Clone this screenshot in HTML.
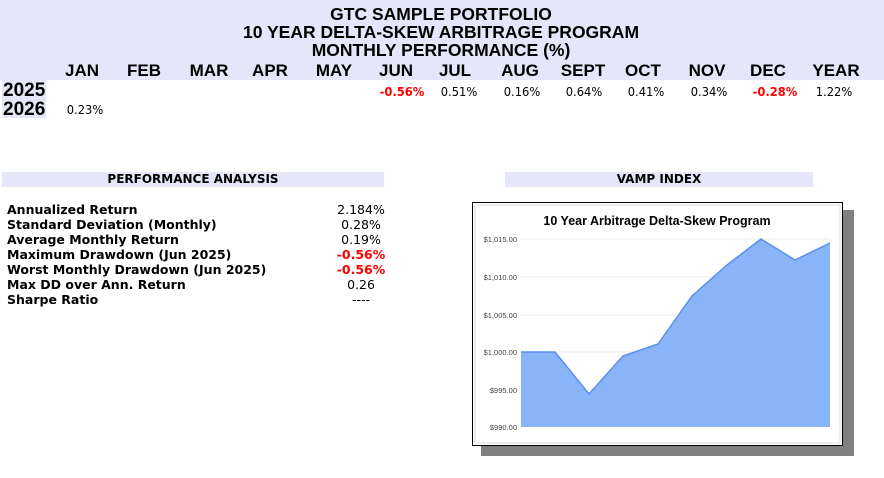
<!DOCTYPE html>
<html><head><style>
body{margin:0;width:884px;height:478px;background:#fff;position:relative;overflow:hidden;font-family:"DejaVu Sans","Liberation Sans",sans-serif;color:#000}
.a{position:absolute;white-space:nowrap}
.t{font-family:"Liberation Sans",sans-serif;font-weight:bold;font-size:17.5px;transform:translateX(-50%);}
.m{font-family:"Liberation Sans",sans-serif;font-weight:bold;font-size:17px;transform:translateX(-50%);top:61px}
.v{font-size:12.5px;transform:translateX(-50%) scaleX(0.92);top:84px}
.r{color:#f00;font-weight:bold;font-size:12.5px}
.l{left:7px;font-size:12.5px;font-weight:bold;}
.n{left:361px;transform:translateX(-50%);font-size:12.5px}
</style></head><body>
<div class="a" style="left:0;top:0;width:884px;height:80px;background:#e6e6fa"></div>
<div class="a" style="left:2px;top:80px;width:44px;height:38px;background:#e6e6fa"></div>
<div class="a t" style="left:441px;top:4px">GTC SAMPLE PORTFOLIO</div>
<div class="a t" style="left:441px;top:22px">10 YEAR DELTA-SKEW ARBITRAGE PROGRAM</div>
<div class="a t" style="left:441px;top:40px">MONTHLY PERFORMANCE (%)</div>
<div class="a m" style="left:82px">JAN</div><div class="a m" style="left:144px">FEB</div><div class="a m" style="left:209px">MAR</div><div class="a m" style="left:270px">APR</div><div class="a m" style="left:334px">MAY</div><div class="a m" style="left:396px">JUN</div><div class="a m" style="left:455px">JUL</div><div class="a m" style="left:520px">AUG</div><div class="a m" style="left:583px">SEPT</div><div class="a m" style="left:643px">OCT</div><div class="a m" style="left:707px">NOV</div><div class="a m" style="left:768px">DEC</div><div class="a m" style="left:836px">YEAR</div>
<div class="a" style="left:3px;top:80px;font-family:'Liberation Sans',sans-serif;font-weight:bold;font-size:19px">2025</div>
<div class="a" style="left:3px;top:99px;font-family:'Liberation Sans',sans-serif;font-weight:bold;font-size:19px">2026</div>
<div class="a v r" style="left:402px">-0.56%</div><div class="a v" style="left:459px">0.51%</div><div class="a v" style="left:522px">0.16%</div><div class="a v" style="left:584px">0.64%</div><div class="a v" style="left:646px">0.41%</div><div class="a v" style="left:709px">0.34%</div><div class="a v r" style="left:775px">-0.28%</div><div class="a v" style="left:834px">1.22%</div>
<div class="a v" style="left:85px;top:102px">0.23%</div>

<div class="a" style="left:2px;top:172px;width:382px;height:15px;background:#e6e6fa;font-size:12px;font-weight:bold;text-align:center;line-height:15px">PERFORMANCE ANALYSIS</div>
<div class="a" style="left:505px;top:172px;width:308px;height:15px;background:#e6e6fa;font-size:12px;font-weight:bold;text-align:center;line-height:15px">VAMP INDEX</div>

<div class="a l" style="top:202px">Annualized Return</div><div class="a n" style="top:202px">2.184%</div>
<div class="a l" style="top:217px">Standard Deviation (Monthly)</div><div class="a n" style="top:217px">0.28%</div>
<div class="a l" style="top:232px">Average Monthly Return</div><div class="a n" style="top:232px">0.19%</div>
<div class="a l" style="top:247px">Maximum Drawdown (Jun 2025)</div><div class="a n r" style="top:247px">-0.56%</div>
<div class="a l" style="top:262px">Worst Monthly Drawdown (Jun 2025)</div><div class="a n r" style="top:262px">-0.56%</div>
<div class="a l" style="top:277px">Max DD over Ann. Return</div><div class="a n" style="top:277px">0.26</div>
<div class="a l" style="top:292px">Sharpe Ratio</div><div class="a n" style="top:292px">----</div>

<div class="a" style="left:481px;top:210px;width:373px;height:246px;background:#808080"></div>
<svg class="a" style="left:472px;top:202px" width="372" height="245" viewBox="472 202 372 245">
<rect x="472.5" y="202.5" width="370" height="243" fill="#fff" stroke="#000"/>
<rect x="475" y="205" width="365" height="238" fill="none" stroke="#ddd"/>
<text x="657" y="225" font-family="Liberation Sans,sans-serif" font-weight="bold" font-size="12.5" text-anchor="middle">10 Year Arbitrage Delta-Skew Program</text>
<g stroke="#eee"><line x1="521" x2="830" y1="239" y2="239"/><line x1="521" x2="830" y1="277" y2="277"/><line x1="521" x2="830" y1="315" y2="315"/><line x1="521" x2="830" y1="352" y2="352"/><line x1="521" x2="830" y1="390" y2="390"/></g>
<g font-family="Liberation Sans,sans-serif" font-size="7.5" fill="#444" text-anchor="end">
<text x="517" y="242">$1,015.00</text><text x="517" y="280">$1,010.00</text><text x="517" y="318">$1,005.00</text><text x="517" y="355">$1,000.00</text><text x="517" y="393">$995.00</text><text x="517" y="430">$990.00</text></g>
<polygon points="521,427 521,352 555,352 589,394 623,356 658,344 692,296 727,265 761,239 795,260 830,243 830,427" fill="#8ab4f8"/>
<polyline points="521,352 555,352 589,394 623,356 658,344 692,296 727,265 761,239 795,260 830,243" fill="none" stroke="#5b8ef0" stroke-width="1.5"/>
</svg>
</body></html>
